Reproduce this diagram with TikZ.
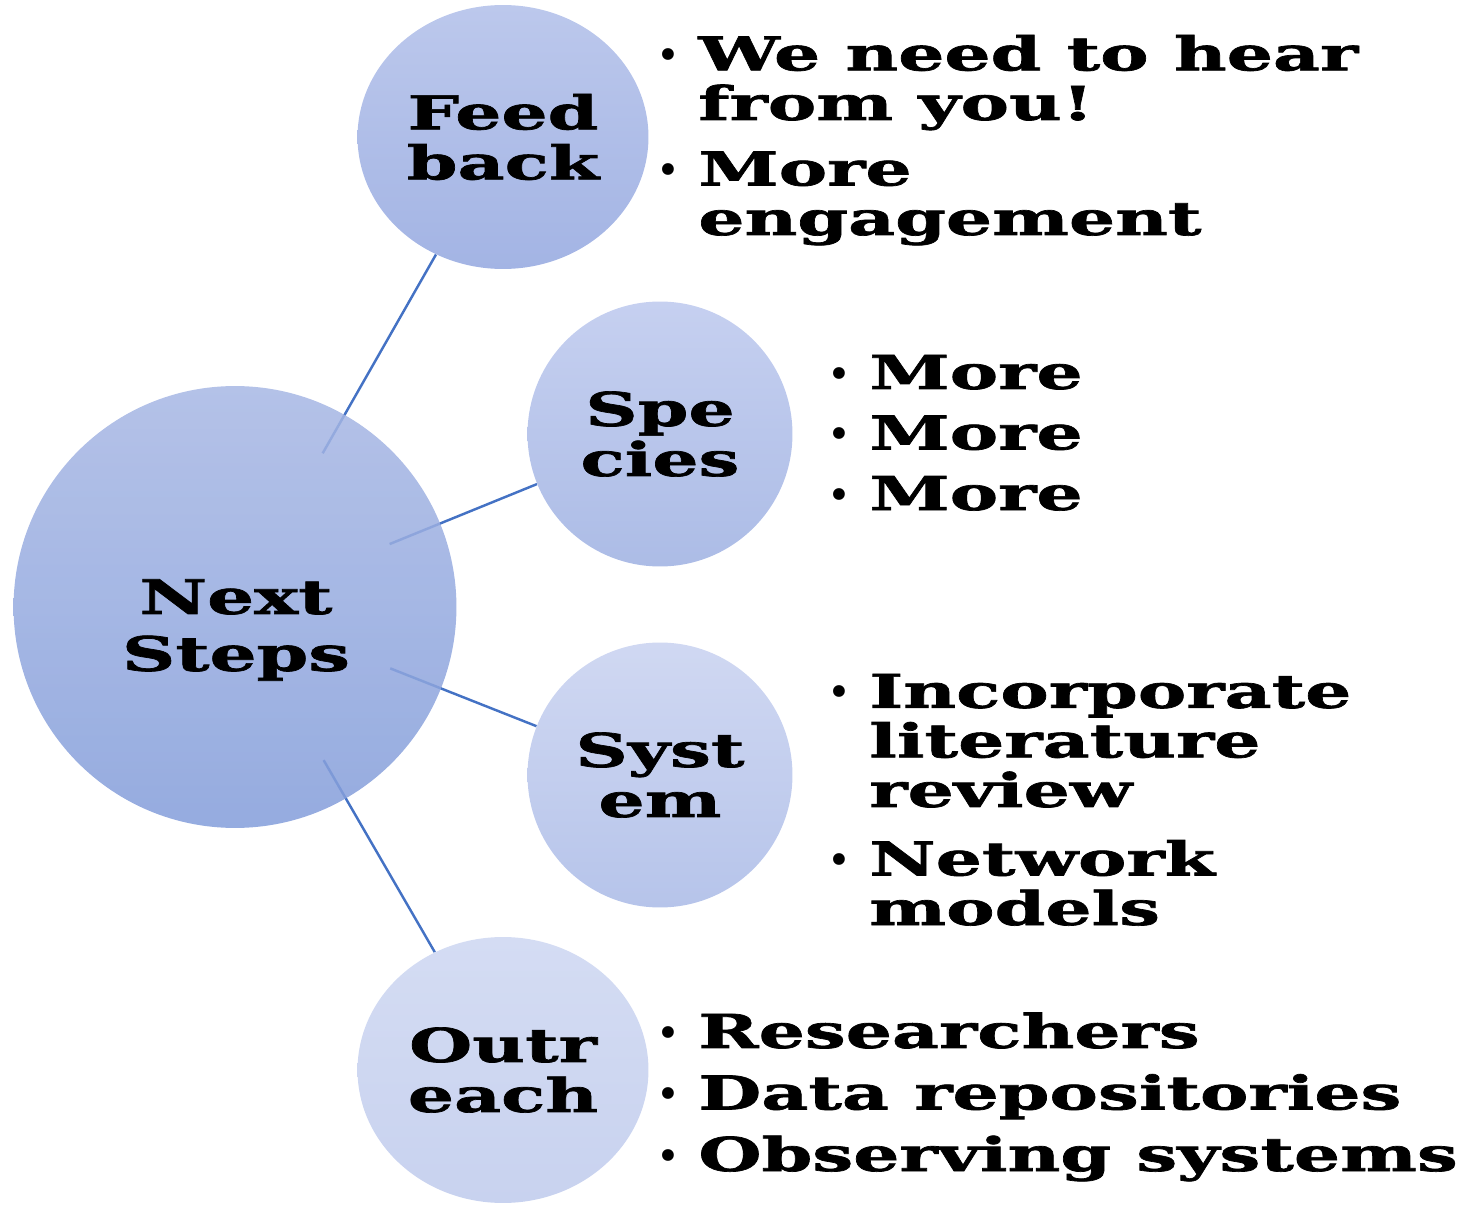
\documentclass[tikz,border=0pt]{standalone}
\usepackage{fontspec}
\setmainfont{DejaVu Serif}
\newfontfamily\slabfont{DejaVu Serif Bold}[FakeStretch=1.56, FakeBold=1.5]
\newfontfamily\dotfont{DejaVu Sans}
\usetikzlibrary{shapes.geometric,backgrounds}

\definecolor{linkblue}{HTML}{4472C4}

% bullet and hanging indent for the notes
\newcommand{\bul}{\makebox[0.84cm][l]{\dotfont\fontsize{23}{23}\selectfont\raisebox{0.5pt}{•}}}
\newcommand{\ind}{\hspace*{0.84cm}}

\begin{document}
\begin{tikzpicture}[x=0.02cm, y=-0.02cm,
    bubble/.style={ellipse, inner sep=0pt, align=center,
        font=\slabfont\fontsize{26.5}{28.5}\selectfont},
    link/.style={draw=linkblue, line width=1.4pt},
    notes/.style={anchor=base west, inner sep=0pt, align=left,
        font=\slabfont\fontsize{26.5}{28.2}\selectfont}]
    \useasboundingbox (0, 0) rectangle (1465, 1206);

    % Centre circle
    \node[bubble, minimum width=8.86cm, minimum height=8.84cm,
        top color={rgb,255:red,167;green,183;blue,228},
        bottom color={rgb,255:red,131;green,157;blue,218},
        fill opacity=0.85] (ns) at (235, 607) {};
    \node[align=center, font=\slabfont\fontsize{27}{32.4}\selectfont] (nsLabel) at (236, 630) {Next\\Steps};

    % Branch circles
    \node[bubble, minimum width=5.82cm, minimum height=5.28cm,
        top color={rgb,255:red,188;green,200;blue,236},
        bottom color={rgb,255:red,163;green,180;blue,228}] (fb) at (503, 137) {Feed\\back};
    \node[bubble, minimum width=5.3cm, minimum height=5.3cm,
        top color={rgb,255:red,198;green,208;blue,240},
        bottom color={rgb,255:red,172;green,188;blue,230}] (sp) at (660, 434) {Spe\\cies};
    \node[bubble, minimum width=5.3cm, minimum height=5.3cm,
        top color={rgb,255:red,208;green,216;blue,242},
        bottom color={rgb,255:red,182;green,196;blue,234}] (sy) at (660, 775) {Syst\\em};
    \node[bubble, minimum width=5.82cm, minimum height=5.32cm,
        top color={rgb,255:red,212;green,220;blue,243},
        bottom color={rgb,255:red,200;green,210;blue,239}] (ou) at (503, 1070) {Outr\\each};

    % Spokes, under the circles
    \begin{pgfonlayer}{background}
        \draw[link, shorten <=3.54cm] (ns.center) -- (fb);
        \draw[link, shorten <=3.34cm] (ns.center) -- (sp);
        \draw[link, shorten <=3.34cm] (ns.center) -- (sy);
        \draw[link, shorten <=3.54cm] (ns.center) -- (ou);
    \end{pgfonlayer}

    % Notes beside each circle (anchored on the last line)
    \node[notes] (fbNotes) at (656, 235) {\bul We need to hear\\
        \ind from you!\\[0.32cm]
        \bul More\\
        \ind engagement};
    \node[notes] (spNotes) at (827, 510) {\bul More\\[0.22cm]
        \bul More\\[0.22cm]
        \bul More};
    \node[notes] (syNotes) at (827, 925) {\bul Incorporate\\
        \ind literature\\
        \ind review\\[0.38cm]
        \bul Network\\
        \ind models};
    \node[notes] (ouNotes) at (656, 1171) {\bul Researchers\\[0.24cm]
        \bul Data repositories\\[0.24cm]
        \bul Observing systems};
\end{tikzpicture}
\end{document}
